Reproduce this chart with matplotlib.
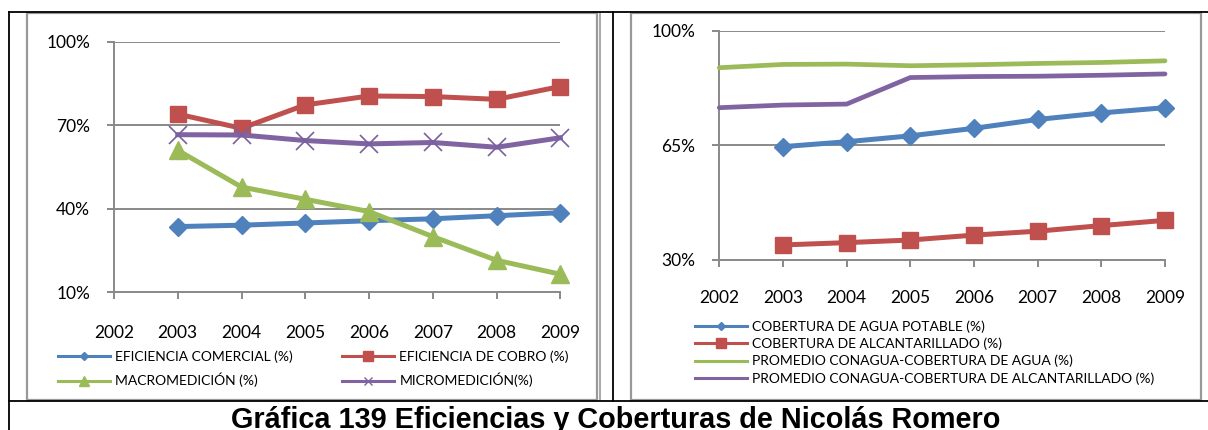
import matplotlib
matplotlib.use('Agg')
import matplotlib.pyplot as plt
import matplotlib.ticker as mticker
from matplotlib.lines import Line2D
from matplotlib.patches import Rectangle

# picture size in pixels
W, H = 1208, 430

years = [2002, 2003, 2004, 2005, 2006, 2007, 2008, 2009]
years_data = [2003, 2004, 2005, 2006, 2007, 2008, 2009]

# left chart (2003-2009)
ef_comercial = [33.6, 34.1, 34.9, 35.7, 36.4, 37.5, 38.6]
ef_cobro = [74.0, 68.9, 77.3, 80.5, 80.3, 79.3, 83.9]
macromedicion = [61.0, 47.8, 43.4, 39.0, 30.0, 21.5, 16.5]
micromedicion = [66.6, 66.5, 64.5, 63.3, 63.8, 62.1, 65.5]

# right chart
cob_agua = [64.6, 66.1, 67.9, 70.2, 72.9, 74.9, 76.5]          # 2003-2009
cob_alcantarillado = [34.6, 35.3, 36.1, 37.6, 38.8, 40.5, 42.1]  # 2003-2009
prom_agua = [88.7, 89.7, 89.8, 89.3, 89.6, 90.0, 90.3, 90.8]     # 2002-2009
prom_alcantarillado = [76.5, 77.3, 77.6, 85.7, 86.0, 86.1, 86.4, 86.8]

left_labels = ['EFICIENCIA COMERCIAL (%)', 'EFICIENCIA DE COBRO (%)',
               'MACROMEDICIÓN (%)', 'MICROMEDICIÓN(%)']
right_labels = ['COBERTURA DE AGUA POTABLE (%)', 'COBERTURA DE ALCANTARILLADO (%)',
                'PROMEDIO CONAGUA-COBERTURA DE AGUA (%)',
                'PROMEDIO CONAGUA-COBERTURA DE ALCANTARILLADO (%)']
title = 'Gráfica 139 Eficiencias y Coberturas de Nicolás Romero'

BLUE = '#4F81BD'
RED = '#C0504D'
GREEN = '#9BBB59'
PURPLE = '#8064A2'
GRID = '#898989'
FRAME = '#999999'

plt.rcParams['font.family'] = ['Lato', 'DejaVu Sans']


def fx(px):
    return px / W


def fy(py):
    return 1 - py / H


def ax_formating(ax, ymin, ymax, yticks, xpad):
    ax.set_xlim(2002, 2009)
    ax.set_ylim(ymin, ymax)
    ax.set_xticks(years)
    ax.set_yticks(yticks)
    ax.yaxis.set_major_formatter(mticker.FuncFormatter(lambda v, p: '{:.0f}%'.format(v)))
    for s in ['top', 'right']:
        ax.spines[s].set_visible(False)
    for s in ['left', 'bottom']:
        ax.spines[s].set_color(GRID)
        ax.spines[s].set_linewidth(1.4)
    ax.grid(axis='y', color=GRID, lw=1.4)
    ax.set_axisbelow(True)
    ax.tick_params(axis='both', direction='out', length=5, width=1.4,
                   color=GRID, labelsize=12.5)
    ax.tick_params(axis='x', pad=xpad)
    ax.tick_params(axis='y', pad=12.2)


fig = plt.figure(figsize=(W / 100, H / 100), dpi=100)

# left chart
ax1 = fig.add_axes([fx(114), fy(292.3), (560.3 - 114) / W, (292.3 - 41.7) / H])
ax_formating(ax1, 10, 100, [10, 40, 70, 100], 18.5)
ax1.plot(years_data, ef_comercial, color=BLUE, lw=3.6, marker='D', ms=8.7, clip_on=False, zorder=3)
ax1.plot(years_data, ef_cobro, color=RED, lw=3.6, marker='s', ms=12, clip_on=False, zorder=3)
ax1.plot(years_data, macromedicion, color=GREEN, lw=3.6, marker='^', ms=13, clip_on=False, zorder=3)
ax1.plot(years_data, micromedicion, color=PURPLE, lw=3.6, marker='x', ms=13, mew=1.2,
         mec='#7a5fa0', clip_on=False, zorder=3)

# right chart
ax2 = fig.add_axes([fx(719.3), fy(260), (1165 - 719.3) / W, (260 - 30.7) / H])
ax_formating(ax2, 30, 100, [30, 65, 100], 16.5)
ax2.plot(years_data, cob_agua, color=BLUE, lw=3.6, marker='D', ms=8.7, clip_on=False, zorder=3)
ax2.plot(years_data, cob_alcantarillado, color=RED, lw=3.6, marker='s', ms=12, clip_on=False, zorder=3)
ax2.plot(years, prom_agua, color=GREEN, lw=3.4, solid_capstyle='round', clip_on=False, zorder=3)
ax2.plot(years, prom_alcantarillado, color=PURPLE, lw=3.4, solid_capstyle='round', clip_on=False, zorder=3)

# legends
h_ec = Line2D([], [], color=BLUE, lw=2.2, marker='D', ms=4.4)
h_cobro = Line2D([], [], color=RED, lw=2.2, marker='s', ms=6.8)
h_macro = Line2D([], [], color=GREEN, lw=2.2, marker='^', ms=6.5)
h_micro = Line2D([], [], color=PURPLE, lw=2.2, marker='x', ms=6, mew=1)
h_agua = Line2D([], [], color=BLUE, lw=2.2, marker='D', ms=4.4)
h_alc = Line2D([], [], color=RED, lw=2.2, marker='s', ms=6.8)
h_pagua = Line2D([], [], color=GREEN, lw=2.2)
h_palc = Line2D([], [], color=PURPLE, lw=2.2)

leg_opts = dict(loc='upper left', bbox_transform=fig.transFigure, frameon=False,
                fontsize=10, handlelength=3.75, handletextpad=0.38,
                borderpad=0, borderaxespad=0)
fig.legend([h_ec, h_macro], [left_labels[0], left_labels[2]],
           bbox_to_anchor=(fx(58), fy(350)), labelspacing=0.75, **leg_opts)
fig.legend([h_cobro, h_micro], [left_labels[1], left_labels[3]],
           bbox_to_anchor=(fx(342), fy(350)), labelspacing=0.75, **leg_opts)
fig.legend([h_agua, h_alc, h_pagua, h_palc], right_labels,
           bbox_to_anchor=(fx(695), fy(320)), labelspacing=0.35, **leg_opts)

# chart frames (gray) and table lines (black)
fig.add_artist(Rectangle((fx(27), fy(400)), (597 - 27) / W, (400 - 13) / H, fill=False,
                         ec=FRAME, lw=1.6, transform=fig.transFigure))
fig.add_artist(Line2D([fx(599.5), fx(599.5)], [fy(13), fy(400)], color=FRAME, lw=1.2))
fig.add_artist(Rectangle((fx(631), fy(400)), (1201 - 631) / W, (400 - 13) / H, fill=False,
                         ec=FRAME, lw=1.6, transform=fig.transFigure))
fig.add_artist(Line2D([fx(8.7), 1], [fy(12), fy(12)], color='black', lw=1.3))
fig.add_artist(Line2D([fx(8.7), 1], [fy(401), fy(401)], color='black', lw=1.3))
fig.add_artist(Line2D([fx(8.7), fx(8.7)], [fy(12), 0], color='black', lw=1.3))
fig.add_artist(Line2D([fx(613.3), fx(613.3)], [fy(12), fy(401)], color='black', lw=1.3))

# the title row is cut by the picture edge in the original as well
fig.text(fx(616), fy(428), title, ha='center', va='baseline', fontsize=20.8,
         fontweight='bold', family=['Liberation Sans', 'DejaVu Sans'])

fig.savefig('out.png', dpi=100)
